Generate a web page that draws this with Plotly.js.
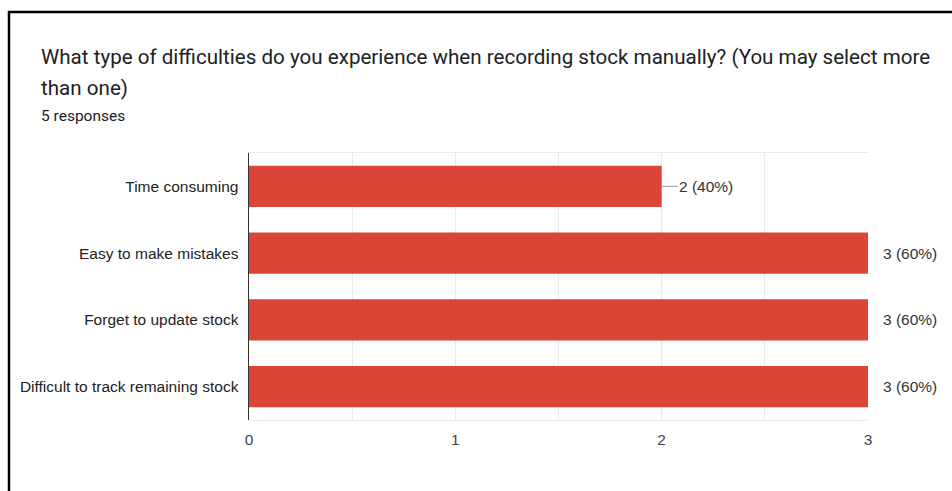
<!DOCTYPE html>
<html><head><meta charset="utf-8">
<script src="https://cdn.plot.ly/plotly-3.0.1.min.js"></script>
<style>body{margin:0;background:#fff}#c{width:952px;height:491px}</style>
</head><body><div id="c"></div>
<script>
const categories = ["Time consuming", "Easy to make mistakes", "Forget to update stock", "Difficult to track remaining stock"];
const counts = [2, 3, 3, 3];
const totalResponses = 5;
const titleLines = ["What type of difficulties do you experience when recording stock manually? (You may select more", "than one)"];
const subtitleText = "5 responses";
const xTicks = [0, 1, 2, 3];

const W = 952, H = 491, mL = 249, mR = 84, mT = 153, mB = 71;
const pw = W - mL - mR, ph = H - mT - mB;
const px = X => (X - mL) / pw;
const py = Y => (H - mB - Y) / ph;

const labels = counts.map(v => v + " (" + Math.round(v / totalResponses * 100) + "%)");

const trace = {
  type: "bar", orientation: "h",
  x: counts, y: categories,
  marker: {color: "#db4437"},
  hoverinfo: "none"
};

const annotations = [
  {xref: "paper", yref: "paper", x: px(39), y: py(57), xanchor: "left", yanchor: "middle", align: "left",
   text: titleLines[0], showarrow: false, font: {family: "Roboto", size: 20.6, color: "#202124"}},
  {xref: "paper", yref: "paper", x: px(39), y: py(88), xanchor: "left", yanchor: "middle", align: "left",
   text: titleLines[1], showarrow: false, font: {family: "Roboto", size: 20.6, color: "#202124"}},
  {xref: "paper", yref: "paper", x: px(39), y: py(116), xanchor: "left", yanchor: "middle", align: "left",
   text: subtitleText, showarrow: false, font: {family: "Roboto", size: 15.5, color: "#202124"}}
];
const shapes = [];
counts.forEach((v, i) => {
  const isMax = v >= Math.max(...counts);
  annotations.push({x: v, y: categories[i], xref: "x", yref: "y", xanchor: "left", xshift: isMax ? 13 : 15,
    text: labels[i], showarrow: false, font: {family: "Liberation Sans, Arial", size: 15.5, color: "#333"}});
  shapes.push({type: "line", xref: "x", yref: "y", xsizemode: "pixel", xanchor: v, x0: 0, x1: isMax ? 4 : 16,
    y0: categories[i], y1: categories[i], line: {color: "#999", width: 1}});
});
// frame border of the screenshot
shapes.push({type: "line", xref: "paper", yref: "paper", x0: px(8), x1: px(952), y0: py(12), y1: py(12), line: {color: "#000", width: 2.5}});
shapes.push({type: "line", xref: "paper", yref: "paper", x0: px(9), x1: px(9), y0: py(11), y1: py(491), line: {color: "#000", width: 2.5}});

const layout = {
  width: W, height: H,
  margin: {l: mL, r: mR, t: mT, b: mB, pad: 0},
  paper_bgcolor: "#fff", plot_bgcolor: "#fff",
  showlegend: false,
  bargap: 0.38,
  font: {family: "Liberation Sans, Arial", size: 15.5, color: "#222"},
  xaxis: {range: [0, 3], tickvals: xTicks, ticktext: xTicks.map(String), showgrid: true, gridcolor: "#ebebeb",
    minor: {dtick: 0.5, tick0: 0, showgrid: true, gridcolor: "#ebebeb"},
    zeroline: false, showline: true, mirror: true, linecolor: "#ebebeb", linewidth: 1,
    ticks: "outside", ticklen: 5, tickcolor: "rgba(0,0,0,0)", tickfont: {size: 15.5, color: "#444"}, fixedrange: true},
  yaxis: {autorange: "reversed", showgrid: false, zeroline: false, showline: true, linecolor: "#333", linewidth: 1.5,
    ticks: "outside", ticklen: 6, tickcolor: "rgba(0,0,0,0)", tickfont: {size: 15.5, color: "#222"}, fixedrange: true},
  annotations: annotations,
  shapes: shapes
};
Plotly.newPlot("c", [trace], layout, {displayModeBar: false, staticPlot: true});
</script></body></html>
